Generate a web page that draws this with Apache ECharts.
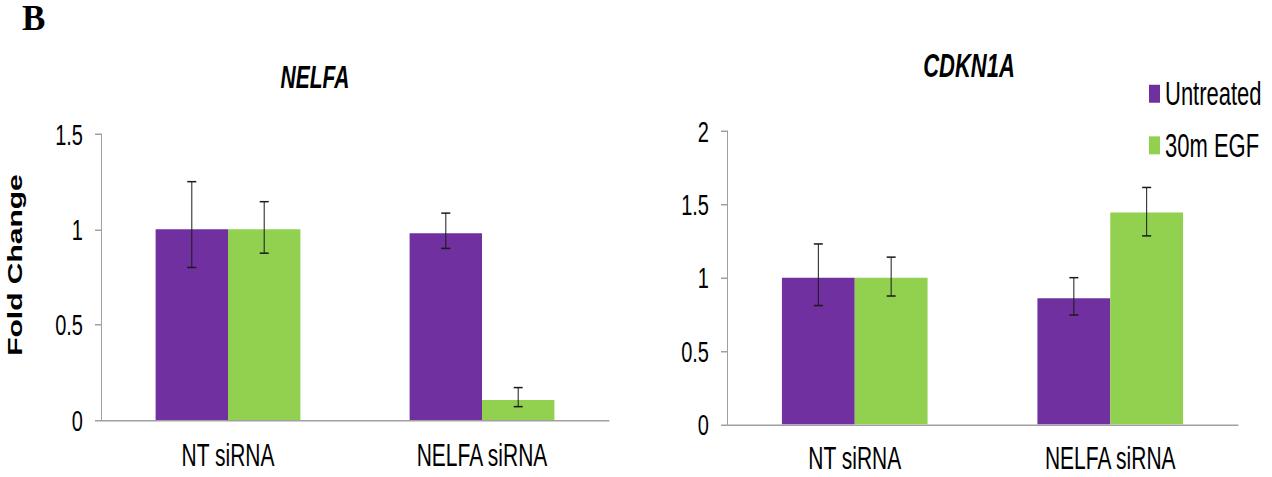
<!DOCTYPE html>
<html>
<head>
<meta charset="utf-8">
<script src="https://cdn.jsdelivr.net/npm/echarts@6/dist/echarts.min.js"></script>
<style>
  html, body { margin: 0; padding: 0; background: #fff; overflow: hidden; }
  #wrap { width: 1272px; height: 477px; overflow: hidden; }
  #main { width: 1272px; height: 318px; transform: scaleY(1.5); transform-origin: 0 0; }
</style>
</head>
<body>
<div id="wrap"><div id="main"></div></div>
<script>
// ---- data ----
const categories = ['NT siRNA', 'NELFA siRNA'];
const seriesNames = ['Untreated', '30m EGF'];
const panelTitles = ['NELFA', 'CDKN1A'];
const yAxisName = 'Fold Change';
const panelLetter = 'B';

// NELFA panel
const nelfaUntreated = [1.00, 0.98];
const nelfaUntreatedLow = [0.80, 0.90];
const nelfaUntreatedHigh = [1.25, 1.085];
const nelfaEGF = [1.00, 0.105];
const nelfaEGFLow = [0.875, 0.07];
const nelfaEGFHigh = [1.145, 0.17];

// CDKN1A panel
const cdknUntreated = [1.00, 0.86];
const cdknUntreatedLow = [0.81, 0.745];
const cdknUntreatedHigh = [1.23, 1.00];
const cdknEGF = [1.00, 1.445];
const cdknEGFLow = [0.875, 1.285];
const cdknEGFHigh = [1.14, 1.615];

const leftTicks = { min: 0, max: 1.5, interval: 0.5 };
const rightTicks = { min: 0, max: 2, interval: 0.5 };

// ---- style ----
const PURPLE = '#7030a0';
const GREEN = '#92d050';
const AXIS = '#a0a0a0';
const FONT = '"Liberation Sans", Arial, sans-serif';
const BAR_RATIO = 0.285;

function errData(low, high) {
  return low.map((l, i) => [i, l, high[i]]);
}

function errSeries(idx, low, high, side) {
  return {
    type: 'custom',
    xAxisIndex: idx,
    yAxisIndex: idx,
    z: 10,
    silent: true,
    data: errData(low, high),
    encode: { x: 0, y: [1, 2] },
    renderItem: function (params, api) {
      const ci = api.value(0);
      const band = api.size([1, 0])[0];
      const xc = api.coord([ci, 0])[0] + side * band * BAR_RATIO / 2;
      const yl = api.coord([ci, api.value(1)])[1];
      const yh = api.coord([ci, api.value(2)])[1];
      const hw = 4.5;
      const st = { stroke: '#1a1a1a', lineWidth: 1 };
      return {
        type: 'group',
        children: [
          { type: 'line', shape: { x1: xc, y1: yl, x2: xc, y2: yh }, style: st },
          { type: 'line', shape: { x1: xc - hw, y1: yl, x2: xc + hw, y2: yl }, style: st },
          { type: 'line', shape: { x1: xc - hw, y1: yh, x2: xc + hw, y2: yh }, style: st }
        ]
      };
    }
  };
}

function xAxisCfg(idx, margin) {
  return {
    type: 'category',
    gridIndex: idx,
    data: categories,
    axisLine: { lineStyle: { color: AXIS, width: 1 } },
    axisTick: { show: false },
    axisLabel: { color: '#000', fontSize: 21, fontFamily: FONT, margin: margin }
  };
}

function yAxisCfg(idx, ticks, extra) {
  return Object.assign({
    type: 'value',
    gridIndex: idx,
    min: ticks.min,
    max: ticks.max,
    interval: ticks.interval,
    splitLine: { show: false },
    axisLine: { show: true, lineStyle: { color: AXIS, width: 1 } },
    axisTick: { show: true, length: 6, lineStyle: { color: AXIS } },
    axisLabel: { color: '#000', fontSize: 20, fontFamily: FONT, margin: 18 }
  }, extra || {});
}

const chart = echarts.init(document.getElementById('main'), null, { renderer: 'svg' });

const option = {
  animation: false,
  backgroundColor: '#fff',
  title: [
    { text: panelTitles[0], left: 315, top: 41, textAlign: 'center', padding: 0,
      textStyle: { fontSize: 21, fontWeight: 'bold', fontStyle: 'italic', fontFamily: FONT, color: '#000' } },
    { text: panelTitles[1], left: 969, top: 33, textAlign: 'center', padding: 0,
      textStyle: { fontSize: 22, fontWeight: 'bold', fontStyle: 'italic', fontFamily: FONT, color: '#000' } }
  ],
  legend: {
    orient: 'vertical',
    left: 1149,
    top: 51.5,
    padding: 0,
    itemGap: 12.4,
    itemWidth: 11,
    itemHeight: 12,
    icon: 'rect',
    data: seriesNames,
    textStyle: { fontSize: 22, fontFamily: FONT, color: '#000' }
  },
  grid: [
    { left: 101, right: 663, top: 89.33, bottom: 38 },
    { left: 727, right: 34, top: 87.33, bottom: 35.1 }
  ],
  xAxis: [xAxisCfg(0, 13), xAxisCfg(1, 12)],
  yAxis: [
    yAxisCfg(0, leftTicks, {
      name: yAxisName,
      nameLocation: 'middle',
      nameGap: 76,
      nameRotate: 90,
      nameTextStyle: { fontSize: 20, fontWeight: 'bold', fontFamily: FONT, color: '#000', padding: [0, 0, 0, 16] }
    }),
    yAxisCfg(1, rightTicks)
  ],
  graphic: [
    { type: 'text', x: 22, y: 0.5, scaleY: 1 / 1.5,
      style: { text: panelLetter, font: 'bold 35px "Liberation Serif", "Times New Roman", serif', fill: '#000', verticalAlign: 'top' } }
  ],
  series: [
    { name: seriesNames[0], type: 'bar', xAxisIndex: 0, yAxisIndex: 0, data: nelfaUntreated,
      barWidth: (BAR_RATIO * 100) + '%', barGap: '0%', itemStyle: { color: PURPLE } },
    { name: seriesNames[1], type: 'bar', xAxisIndex: 0, yAxisIndex: 0, data: nelfaEGF,
      barWidth: (BAR_RATIO * 100) + '%', barGap: '0%', itemStyle: { color: GREEN } },
    { name: seriesNames[0], type: 'bar', xAxisIndex: 1, yAxisIndex: 1, data: cdknUntreated,
      barWidth: (BAR_RATIO * 100) + '%', barGap: '0%', itemStyle: { color: PURPLE } },
    { name: seriesNames[1], type: 'bar', xAxisIndex: 1, yAxisIndex: 1, data: cdknEGF,
      barWidth: (BAR_RATIO * 100) + '%', barGap: '0%', itemStyle: { color: GREEN } },
    errSeries(0, nelfaUntreatedLow, nelfaUntreatedHigh, -1),
    errSeries(0, nelfaEGFLow, nelfaEGFHigh, 1),
    errSeries(1, cdknUntreatedLow, cdknUntreatedHigh, -1),
    errSeries(1, cdknEGFLow, cdknEGFHigh, 1)
  ]
};

chart.setOption(option);
</script>
</body>
</html>
